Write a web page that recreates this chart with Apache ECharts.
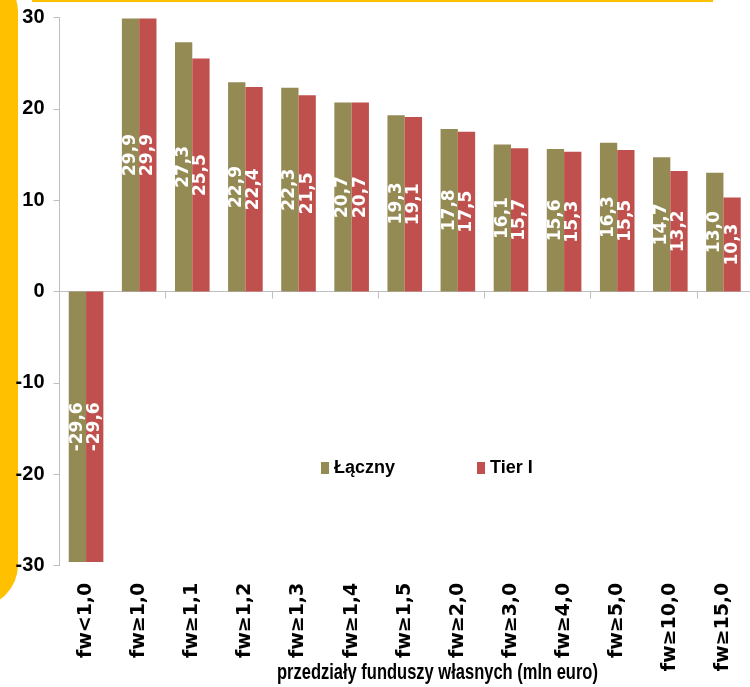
<!DOCTYPE html>
<html>
<head>
<meta charset="utf-8">
<script src="https://cdn.jsdelivr.net/npm/echarts@6/dist/echarts.min.js"></script>
<style>html,body{margin:0;padding:0;background:#fff}#c{width:750px;height:687px}</style>
</head>
<body>
<div id="c"></div>
<script>
var categories = ['fw<1,0','fw≥1,0','fw≥1,1','fw≥1,2','fw≥1,3','fw≥1,4','fw≥1,5','fw≥2,0','fw≥3,0','fw≥4,0','fw≥5,0','fw≥10,0','fw≥15,0'];
var seriesNames = ['Łączny','Tier I'];
var lacznyValues = [-29.6, 29.9, 27.3, 22.9, 22.3, 20.7, 19.3, 17.8, 16.1, 15.6, 16.3, 14.7, 13.0];
var tierValues = [-29.6, 29.9, 25.5, 22.4, 21.5, 20.7, 19.1, 17.5, 15.7, 15.3, 15.5, 13.2, 10.3];
var yTicks = {min: -30, max: 30, interval: 10};
var axisTitle = 'przedziały funduszy własnych (mln euro)';

var lib = '"Liberation Sans",Arial,sans-serif';
var wide = '"DejaVu Sans",Verdana,sans-serif';
var chart = echarts.init(document.getElementById('c'), null, {renderer: 'canvas'});
function lbl(p){ return p.value.toFixed(1).replace('.', ','); }
var labelCfg = {show: true, position: 'inside', rotate: 90, color: '#fff', fontFamily: wide, fontWeight: 'bold', fontSize: 17, formatter: lbl};
var legendText = {fontFamily: lib, fontWeight: 'bold', fontSize: 18, color: '#000'};
chart.setOption({
  animation: false,
  legend: [
    {data: [seriesNames[0]], left: 321, top: 459, padding: 0, icon: 'rect', itemWidth: 8, itemHeight: 12, textStyle: legendText},
    {data: [seriesNames[1]], left: 477, top: 459, padding: 0, icon: 'rect', itemWidth: 8, itemHeight: 12, textStyle: legendText}
  ],
  grid: {left: 59.5, top: 17.5, width: 704.6, height: 548.2, containLabel: false},
  xAxis: [
    {type: 'category', data: categories, position: 'bottom',
     axisLine: {show: true, onZero: true, lineStyle: {color: '#BFBFBF', width: 1}},
     axisTick: {show: true, length: 7, lineStyle: {color: '#BFBFBF'}},
     axisLabel: {show: false}, splitLine: {show: false}},
    {type: 'category', data: categories, position: 'bottom',
     axisLine: {show: false, onZero: false}, axisTick: {show: false}, splitLine: {show: false},
     axisLabel: {show: true, rotate: 90, margin: 17, fontFamily: wide, fontWeight: 'bold', fontSize: 19, color: '#000', interval: 0}}
  ],
  yAxis: {type: 'value', min: yTicks.min, max: yTicks.max, interval: yTicks.interval,
    axisLine: {show: true, lineStyle: {color: '#BFBFBF'}},
    axisTick: {show: true, length: 6, lineStyle: {color: '#BFBFBF'}},
    splitLine: {show: false},
    axisLabel: {margin: 15, fontFamily: lib, fontWeight: 'bold', fontSize: 20, color: '#000'}},
  series: [
    {name: seriesNames[0], type: 'bar', xAxisIndex: 0, data: lacznyValues, barWidth: 17.3, barGap: '0%',
     itemStyle: {color: '#948A54'}, label: labelCfg},
    {name: seriesNames[1], type: 'bar', xAxisIndex: 0, data: tierValues, barWidth: 17.3, barGap: '0%',
     itemStyle: {color: '#C0504D'}, label: labelCfg}
  ],
  graphic: [
    {type: 'rect', shape: {x: -40, y: -30, width: 58, height: 637, r: [0, 42, 42, 0]}, style: {fill: '#FFC000'}, z: -1},
    {type: 'rect', shape: {x: 32, y: 0, width: 681, height: 2}, style: {fill: '#FFC000'}, z: -1},
    {type: 'text', x: 277, y: 673, scaleX: 0.75, style: {text: axisTitle, fontFamily: lib, fontWeight: 'bold', fontSize: 22, fill: '#000', verticalAlign: 'middle', align: 'left'}}
  ]
});
</script>
</body>
</html>
